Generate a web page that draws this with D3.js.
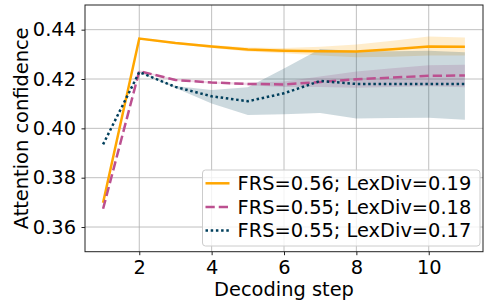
<!DOCTYPE html>
<html><head><meta charset="utf-8">
<script src="https://cdn.jsdelivr.net/npm/d3@7"></script>
<style>body{margin:0;background:#fff}svg{display:block;font-family:"DejaVu Sans",sans-serif}</style>
</head><body><svg id="c" width="486" height="306"></svg>
<script>
const steps = [1,2,3,4,5,6,7,8,9,10,11];
const labels = ["FRS=0.56; LexDiv=0.19","FRS=0.55; LexDiv=0.18","FRS=0.55; LexDiv=0.17"];
const colors = ["#ffa600","#bc5090","#003f5c"];
const meanA = [0.3698,0.4364,0.4346,0.4332,0.4320,0.4315,0.4313,0.4312,0.4321,0.4332,0.4331];
const upA   = [0.3698,0.4367,0.4350,0.4338,0.4328,0.4326,0.4331,0.4340,0.4355,0.4372,0.4368];
const loA   = [0.3698,0.4361,0.4342,0.4326,0.4312,0.4304,0.4295,0.4288,0.4290,0.4295,0.4295];
const meanB = [0.3674,0.4232,0.4196,0.4186,0.4180,0.4178,0.4188,0.4199,0.4206,0.4213,0.4214];
const upB   = [0.3674,0.4236,0.4200,0.4190,0.4185,0.4190,0.4210,0.4230,0.4244,0.4256,0.4258];
const loB   = [0.3674,0.4228,0.4192,0.4182,0.4175,0.4168,0.4168,0.4165,0.4168,0.4171,0.4167];
const meanC = [0.3935,0.4228,0.4168,0.4130,0.4110,0.4142,0.4192,0.4180,0.4180,0.4180,0.4180];
const upC   = [0.3935,0.4230,0.4172,0.4155,0.4167,0.4243,0.4322,0.4314,0.4313,0.4315,0.4308];
const loC   = [0.3935,0.4226,0.4164,0.4101,0.4054,0.4057,0.4062,0.4040,0.4042,0.4043,0.4035];
const xTicks = [2,4,6,8,10];
const yTicks = [0.36,0.38,0.40,0.42,0.44];

const series = [
  {mean:meanA, up:upA, lo:loA, color:colors[0], label:labels[0], dash:null},
  {mean:meanB, up:upB, lo:loB, color:colors[1], label:labels[1], dash:"9.25,4"},
  {mean:meanC, up:upC, lo:loC, color:colors[2], label:labels[2], dash:"2.5,2.7"}
];

const FS=19.4;
const W=486,H=306,m={l:85,t:5,r:3,b:54.3};
const svg=d3.select("#c");
const x=d3.scaleLinear().domain([0.5,11.5]).range([m.l,W-m.r]);
const y=d3.scaleLinear().domain([0.35,0.45]).range([H-m.b,m.t]);

svg.append("defs").append("clipPath").attr("id","clip").append("rect")
  .attr("x",m.l).attr("y",m.t).attr("width",W-m.l-m.r).attr("height",H-m.t-m.b);

// grid
const g=svg.append("g");
g.selectAll(".gx").data(xTicks).join("line").attr("x1",d=>x(d)).attr("x2",d=>x(d))
  .attr("y1",m.t).attr("y2",H-m.b).attr("stroke","#b0b0b0").attr("stroke-width",0.8);
g.selectAll(".gy").data(yTicks).join("line").attr("y1",d=>y(d)).attr("y2",d=>y(d))
  .attr("x1",m.l).attr("x2",W-m.r).attr("stroke","#b0b0b0").attr("stroke-width",0.8);

const plot=svg.append("g").attr("clip-path","url(#clip)");
series.forEach(s=>{
  const area=d3.area().x((d,i)=>x(steps[i])).y0((d,i)=>y(s.lo[i])).y1((d,i)=>y(s.up[i]));
  plot.append("path").datum(steps).attr("d",area).attr("fill",s.color).attr("fill-opacity",0.2);
});
series.forEach(s=>{
  const line=d3.line().x((d,i)=>x(steps[i])).y((d,i)=>y(s.mean[i]));
  const p=plot.append("path").datum(steps).attr("d",line).attr("fill","none")
    .attr("stroke",s.color).attr("stroke-width",2.5);
  if(s.dash) p.attr("stroke-dasharray",s.dash);
});

// axes
const xa=svg.append("g").attr("transform",`translate(0,${H-m.b})`)
  .call(d3.axisBottom(x).tickValues(xTicks).tickSize(3.5).tickPadding(4.7).tickFormat(d3.format("d")));
const ya=svg.append("g").attr("transform",`translate(${m.l},0)`)
  .call(d3.axisLeft(y).tickValues(yTicks).tickSize(3.5).tickPadding(5.5).tickFormat(d3.format(".2f")));
[xa,ya].forEach(a=>{a.select(".domain").remove();a.selectAll("text").attr("font-size",FS).attr("fill","#000")
  .attr("font-family","DejaVu Sans");a.selectAll("line").attr("stroke","#222");});

svg.append("rect").attr("x",m.l).attr("y",m.t).attr("width",W-m.l-m.r).attr("height",H-m.t-m.b)
  .attr("fill","none").attr("stroke","#222").attr("stroke-width",1);

svg.append("text").attr("x",(m.l+W-m.r)/2).attr("y",296.3).attr("text-anchor","middle")
  .attr("font-size",FS).text("Decoding step");
svg.append("text").attr("transform",`translate(27.5,${(m.t+H-m.b)/2}) rotate(-90)`)
  .attr("text-anchor","middle").attr("font-size",FS).text("Attention confidence");

// legend
const lg=svg.append("g");
lg.append("rect").attr("x",202.5).attr("y",170).attr("width",277.5).attr("height",76).attr("rx",3)
  .attr("fill","#fff").attr("fill-opacity",0.8).attr("stroke","#ccc").attr("stroke-width",1);
series.forEach((s,i)=>{
  const cy=183.3+i*23.6;
  const l=lg.append("line").attr("x1",205.5).attr("x2",229.5).attr("y1",cy).attr("y2",cy)
    .attr("stroke",s.color).attr("stroke-width",2.5);
  if(s.dash) l.attr("stroke-dasharray",s.dash);
  lg.append("text").attr("x",237.5).attr("y",cy).attr("dy","0.36em").attr("font-size",FS).text(s.label);
});
</script></body></html>
